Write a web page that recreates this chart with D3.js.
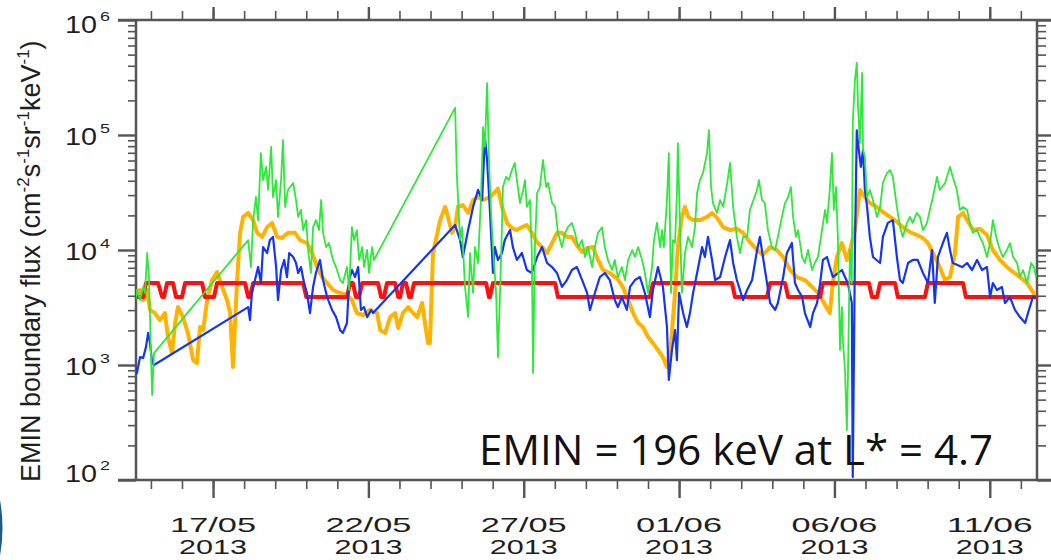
<!DOCTYPE html>
<html>
<head>
<meta charset="utf-8">
<script src="https://cdn.jsdelivr.net/npm/d3@7"></script>
<style>
  body { margin: 0; background: #fff; }
  svg { display: block; }
</style>
</head>
<body>
<svg id="chart" width="1051" height="560"></svg>
<script>
// time is in days since 14/05/2013 00:00 UT, flux in cm-2 s-1 sr-1 keV-1
const DAY = 864e5;
const T0 = Date.UTC(2013, 4, 14);
const tRange = [0.52, 29.52];

const xTickLabels = ['17/05', '22/05', '27/05', '01/06', '06/06', '11/06'];
const yearLabel = '2013';
const yDecades = [2, 3, 4, 5, 6];
const yTitleParts = [['EMIN boundary flux (cm', '-2'], ['s', '-1'], ['sr', '-1'], ['keV', '-1'], [')', '']];
const note = 'EMIN = 196 keV at L* = 4.7';

const fluxOrange = [
  [0.49,4230],[0.65,4490],[0.75,3670],[0.88,4490],[0.97,3010],[1.13,2830],[1.29,2460],[1.45,2830],[1.55,1750],[1.68,1270],
  [1.78,2320],[1.87,3190],[2.03,2610],[2.19,1900],[2.36,1100],[2.48,1040],[2.58,2140],[2.68,2010],[2.81,3670],[2.97,5480],
  [3.13,6440],[3.29,4770],[3.45,3670],[3.55,2830],[3.64,961],[3.77,5160],[3.87,14100],[3.97,19400],[4.13,21000],[4.29,18200],
  [4.42,14100],[4.58,13000],[4.74,15800],[4.90,17200],[5.06,13000],[5.22,12700],[5.41,14100],[5.64,14100],[5.80,12200],[6.02,11500],
  [6.19,9420],[6.35,7110],[6.51,5820],[6.67,5160],[6.86,4490],[7.09,4230],[7.31,4060],[7.47,3670],[7.63,2830],[7.83,2720],
  [8.05,3010],[8.28,2830],[8.38,2010],[8.54,1900],[8.70,2610],[8.86,2830],[8.96,2100],[9.11,2830],[9.28,3190],[9.44,2830],
  [9.57,2610],[9.73,3460],[9.82,2320],[9.92,1550],[9.98,1550],[10.08,9420],[10.31,18200],[10.47,23700],[10.56,19400],[10.69,14100],
  [10.79,15800],[10.88,23700],[11.04,24600],[11.21,21000],[11.37,27200],[11.53,28900],[11.69,27200],[11.91,28900],[12.07,31800],[12.17,34300],
  [12.30,23700],[12.46,17200],[12.62,15500],[12.78,14900],[12.94,15800],[13.10,16500],[13.26,14100],[13.43,11700],[13.59,10600],[13.75,9420],
  [13.91,11500],[14.07,14100],[14.23,14100],[14.39,13000],[14.55,13000],[14.71,11000],[14.88,9610],[15.04,10400],[15.23,10600],[15.39,8190],
  [15.55,6700],[15.77,6310],[16.00,5700],[16.19,4770],[16.36,3670],[16.52,2830],[16.68,2320],[16.84,2140],[17.00,1750],[17.16,1550],
  [17.32,1350],[17.48,1170],[17.61,961],[17.74,1550],[17.87,4230],[17.96,10600],[18.09,19400],[18.19,23700],[18.29,19400],[18.45,18200],
  [18.67,18200],[18.90,19400],[19.06,21000],[19.22,19000],[19.42,15800],[19.64,14900],[19.86,15300],[20.06,14100],[20.28,11700],[20.51,10000],
  [20.70,9050],[20.93,10600],[21.15,10000],[21.35,8690],[21.57,6700],[21.79,5820],[22.05,5480],[22.28,4770],[22.47,4230],[22.70,3330],
  [22.85,2830],[22.95,5160],[23.08,8690],[23.24,11500],[23.40,8190],[23.50,10000],[23.66,14900],[23.82,33300],[23.98,28900],[24.14,25600],
  [24.37,23700],[24.56,21400],[24.79,19400],[25.01,17600],[25.20,15800],[25.43,14300],[25.65,13500],[25.85,12700],[26.01,11500],[26.17,9420],
  [26.33,7710],[26.56,5480],[26.72,5820],[26.88,9420],[26.98,19400],[27.14,21000],[27.30,17600],[27.46,14900],[27.68,15300],[27.91,13500],
  [28.10,10000],[28.33,8190],[28.55,7110],[28.75,6440],[28.97,5820],[29.20,5160],[29.39,4310],[29.49,3740]
];

const fluxRed = [
  [0.52,3900],[0.75,3900],[0.84,5160],[1.23,5160],[1.36,3900],[1.42,3900],[1.52,5160],[1.71,5160],[1.81,3900],[2.00,3900],
  [2.10,5160],[2.65,5160],[2.74,3900],[3.03,3900],[3.13,5160],[4.03,5160],[4.13,3900],[4.19,3900],[4.29,5160],[5.90,5160],
  [6.00,3900],[7.31,3900],[7.41,5160],[7.50,5160],[7.60,3900],[7.70,3900],[7.80,5160],[8.31,5160],[8.41,3900],[8.50,3900],
  [8.60,5160],[8.86,5160],[8.96,3900],[9.02,3900],[9.11,5160],[9.21,5160],[9.31,3900],[9.37,3900],[9.47,5160],[11.79,5160],
  [11.88,3900],[11.91,3900],[12.01,5160],[14.01,5160],[14.10,3900],[17.06,3900],[17.16,5160],[19.70,5160],[19.80,3900],[20.83,3900],
  [20.93,5160],[21.41,5160],[21.51,3900],[22.54,3900],[22.63,5160],[24.11,5160],[24.21,3900],[24.37,3900],[24.47,5160],[24.95,5160],
  [25.04,3900],[25.91,3900],[26.01,5160],[27.14,5160],[27.23,3900],[29.52,3900]
];

const fluxBlue = [
  [0.49,961],[0.55,851],[0.65,1170],[0.75,1150],[0.84,1430],[0.91,1900],[0.97,1550],[1.04,1040],[1.10,1000],[4.13,3190],
  [4.19,2460],[4.25,4230],[4.35,5480],[4.45,7110],[4.54,5160],[4.61,10600],[4.74,9420],[4.83,12200],[4.93,13000],[5.03,7110],
  [5.09,3670],[5.19,6700],[5.29,8190],[5.38,5820],[5.45,9420],[5.58,8690],[5.67,7710],[5.74,6310],[5.83,7110],[5.93,5160],
  [6.02,4230],[6.12,2830],[6.22,4770],[6.31,6310],[6.44,8190],[6.54,5480],[6.67,3900],[6.83,3010],[6.96,2610],[7.09,2010],
  [7.18,1900],[7.31,2320],[7.38,5480],[7.47,6700],[7.57,5820],[7.67,7110],[7.76,3010],[7.86,3190],[7.96,2610],[8.09,3010],
  [8.15,2830],[10.79,16500],[10.95,12200],[11.04,8690],[11.21,14900],[11.37,23700],[11.53,33300],[11.66,27200],[11.75,96000],[11.82,60600],
  [11.91,22300],[12.01,6310],[12.07,10600],[12.17,8190],[12.30,9420],[12.39,12200],[12.56,14900],[12.65,10600],[12.78,8190],[12.94,9420],
  [13.10,6700],[13.26,6310],[13.43,8690],[13.59,10600],[13.75,7710],[13.91,7110],[14.07,6310],[14.23,4770],[14.39,5480],[14.55,6700],
  [14.71,7110],[14.88,5480],[15.04,4230],[15.13,3010],[15.29,4230],[15.45,5820],[15.61,6310],[15.77,5480],[15.93,3670],[16.03,3190],
  [16.16,3900],[16.32,3010],[16.42,4770],[16.58,5480],[16.74,5820],[16.90,4230],[17.06,2610],[17.16,4490],[17.32,7110],[17.48,4770],
  [17.61,2140],[17.67,741],[17.77,1350],[17.87,2010],[17.93,1100],[18.00,4230],[18.13,2830],[18.25,2140],[18.35,2830],[18.45,4230],
  [18.58,6310],[18.74,10600],[18.83,8690],[18.93,13000],[19.06,8190],[19.16,5480],[19.32,5820],[19.48,8690],[19.64,12200],[19.74,7710],
  [19.86,5480],[20.06,3670],[20.19,4490],[20.35,5480],[20.51,10000],[20.60,13000],[20.70,8690],[20.83,5160],[20.93,3460],[21.09,3010],
  [21.18,3460],[21.35,5820],[21.47,9420],[21.63,11500],[21.73,5160],[21.83,4490],[21.96,3900],[22.05,2830],[22.22,2140],[22.31,2830],
  [22.44,3460],[22.54,5160],[22.63,8190],[22.76,8690],[22.85,7110],[22.95,5820],[23.24,6700],[23.34,5820],[23.43,5160],[23.56,3460],
  [23.59,106],[23.66,10000],[23.72,110000],[23.76,85100],[23.85,52800],[23.92,74000],[23.98,33300],[24.05,23700],[24.14,13000],[24.24,8690],
  [24.47,7710],[24.56,13000],[24.72,17200],[24.88,18200],[25.01,8690],[25.11,5480],[25.20,5160],[25.37,7710],[25.52,8190],[25.68,8190],
  [25.85,6310],[26.01,5160],[26.14,10000],[26.23,3460],[26.33,8690],[26.49,11500],[26.62,14100],[26.72,10000],[26.81,7710],[27.11,7110],
  [27.27,7710],[27.43,6700],[27.59,8190],[27.75,6700],[27.91,7110],[28.01,3900],[28.10,5160],[28.23,4490],[28.39,4770],[28.49,3460],
  [28.65,3900],[28.81,3010],[28.97,2610],[29.14,2320],[29.23,2830],[29.39,3900],[29.49,3820]
];

const fluxGreen = [
  [0.49,3460],[0.55,4490],[0.65,3670],[0.75,4770],[0.81,4230],[0.88,9420],[0.94,5480],[1.00,1270],[1.04,548],[1.10,1270],
  [4.13,12200],[4.22,7110],[4.29,18200],[4.38,28900],[4.45,18200],[4.54,69700],[4.61,40600],[4.71,52800],[4.77,33300],[4.87,78700],
  [4.93,28900],[5.03,40600],[5.09,19400],[5.19,40600],[5.25,90500],[5.32,23700],[5.41,33300],[5.48,35300],[5.58,38300],[5.67,27200],
  [5.74,19400],[5.83,22300],[5.90,14900],[6.00,18200],[6.06,10000],[6.15,6310],[6.22,15800],[6.31,18200],[6.41,14900],[6.48,27200],
  [6.54,14100],[6.64,10600],[6.73,11500],[6.86,8190],[6.96,7110],[7.09,5480],[7.18,5160],[7.31,7110],[7.38,4490],[7.47,15800],
  [7.54,12200],[7.63,14900],[7.70,8190],[7.80,10600],[7.86,7110],[7.96,10000],[8.02,6310],[8.12,10600],[8.18,8190],[10.79,172000],
  [10.85,43200],[10.95,12200],[11.01,15800],[11.11,4770],[11.21,2610],[11.27,9420],[11.37,4230],[11.43,10600],[11.53,7710],[11.62,27200],
  [11.69,117000],[11.75,78700],[11.82,283000],[11.88,60600],[11.95,21000],[12.01,10600],[12.11,4230],[12.17,1170],[12.27,8190],[12.33,35300],
  [12.43,43200],[12.52,40600],[12.62,49600],[12.71,57100],[12.78,40600],[12.88,25600],[12.98,33300],[13.04,40600],[13.10,23700],[13.20,27200],
  [13.26,9420],[13.30,851],[13.36,10600],[13.43,31300],[13.52,35300],[13.62,60600],[13.72,35300],[13.78,38300],[13.91,25600],[14.01,23700],
  [14.10,14100],[14.23,10600],[14.33,14100],[14.42,15800],[14.55,17200],[14.65,14100],[14.75,10600],[14.88,12200],[14.97,8690],[15.07,10600],
  [15.20,7110],[15.29,10600],[15.39,14100],[15.52,15800],[15.61,10600],[15.71,8190],[15.84,6700],[15.93,8190],[16.03,5820],[16.16,7110],
  [16.26,5480],[16.36,8190],[16.49,10000],[16.58,8690],[16.68,10600],[16.81,8190],[16.90,6310],[17.00,4230],[17.13,7110],[17.19,12200],
  [17.29,17200],[17.39,10600],[17.45,14900],[17.51,10600],[17.61,27200],[17.67,69700],[17.74,4230],[17.80,12200],[17.87,11500],[17.93,31300],
  [17.96,85100],[18.03,15800],[18.09,4230],[18.19,9420],[18.29,13000],[18.42,10600],[18.51,15800],[18.58,31300],[18.67,40600],[18.77,46700],
  [18.90,69700],[18.96,110000],[19.03,35300],[19.09,25600],[19.22,21000],[19.32,27200],[19.42,23700],[19.55,38300],[19.64,57100],[19.74,23700],
  [19.86,13000],[19.96,9420],[20.06,13000],[20.19,13000],[20.28,22300],[20.51,33300],[20.57,40600],[20.67,27200],[20.76,25600],[20.86,14900],
  [20.99,10600],[21.09,10000],[21.18,13000],[21.31,19400],[21.41,25600],[21.51,28900],[21.60,35300],[21.67,19400],[21.76,13000],[21.83,14900],
  [21.96,8690],[22.05,7710],[22.15,10000],[22.28,6700],[22.37,7710],[22.47,8690],[22.60,14900],[22.70,22300],[22.76,17200],[22.85,33300],
  [22.92,69700],[22.98,22300],[23.05,35300],[23.11,13000],[23.18,1350],[23.24,3190],[23.27,1650],[23.34,905],[23.40,272],[23.43,697],
  [23.50,10000],[23.56,5160],[23.59,127000],[23.66,301000],[23.72,423000],[23.76,175000],[23.82,85100],[23.89,346000],[23.92,74000],[23.98,64400],
  [24.05,28900],[24.14,33300],[24.24,27200],[24.37,19400],[24.47,23700],[24.56,38300],[24.69,46700],[24.79,49600],[24.88,43200],[25.01,23700],
  [25.11,15800],[25.20,13000],[25.33,17200],[25.43,19400],[25.52,17200],[25.65,21000],[25.75,19400],[25.85,14900],[25.98,17200],[26.07,22300],
  [26.17,28900],[26.30,43200],[26.39,33300],[26.56,38300],[26.72,52800],[26.81,43200],[26.94,33300],[27.04,22300],[27.14,23700],[27.27,22300],
  [27.36,17200],[27.46,14100],[27.59,14900],[27.68,13000],[27.78,11500],[27.91,8690],[28.01,11500],[28.10,18200],[28.23,12200],[28.33,10000],
  [28.42,8690],[28.55,10000],[28.65,11500],[28.75,8690],[28.88,7710],[28.97,5820],[29.07,6700],[29.20,5160],[29.33,7710],[29.42,7110],
  [29.49,5820]
];

const AXIS = '#555';
const INK = '#1e1e1e';
const toDate = t => new Date(T0 + t * DAY);

const svg = d3.select('#chart');
const x = d3.scaleUtc().domain(tRange.map(toDate)).range([136, 1037]);
const y = d3.scaleLog().domain([1e2, 1e6]).range([480, 20]);
const [xLeft, xRight] = x.range();
const [yBottom, yTop] = y.range();

// ticks
const majorDates = xTickLabels.map(s => {
  const [d, m] = s.split('/').map(Number);
  return new Date(Date.UTC(2013, m - 1, d));
});
const minorDates = d3.utcDay.range(...x.domain().map(d => d3.utcDay.ceil(d)));
const majorY = yDecades.map(e => 10 ** e);
const minorY = yDecades.slice(0, -1).flatMap(e => d3.range(2, 10).map(k => k * 10 ** e));

function tickGroup(axisFn, scale, values, size, pos, width) {
  svg.append('g')
    .attr('transform', pos)
    .call(axisFn(scale).tickValues(values).tickSize(size).tickFormat(''))
    .call(g => g.select('.domain').remove())
    .call(g => g.selectAll('text').remove())
    .call(g => g.selectAll('line').attr('stroke', AXIS).attr('stroke-width', width));
}
tickGroup(d3.axisBottom, x, minorDates, 9, `translate(0,${yBottom})`, 1.6);
tickGroup(d3.axisBottom, x, majorDates, 18, `translate(0,${yBottom})`, 2.4);
tickGroup(d3.axisTop, x, minorDates, 9, `translate(0,${yTop})`, 1.6);
tickGroup(d3.axisTop, x, majorDates, 13, `translate(0,${yTop})`, 2.4);
tickGroup(d3.axisLeft, y, minorY, 8, `translate(${xLeft},0)`, 1.6);
tickGroup(d3.axisLeft, y, majorY, 18, `translate(${xLeft},0)`, 2.4);
tickGroup(d3.axisRight, y, minorY, 9, `translate(${xRight},0)`, 1.6);
tickGroup(d3.axisRight, y, majorY, 14, `translate(${xRight},0)`, 2.4);

// frame
const frame = svg.append('g').attr('stroke', AXIS).attr('stroke-width', 2.5);
frame.append('line').attr('x1', xLeft - 18).attr('x2', 1051).attr('y1', yTop).attr('y2', yTop);
frame.append('line').attr('x1', xLeft - 18).attr('x2', 1051).attr('y1', yBottom).attr('y2', yBottom);
frame.append('line').attr('x1', xLeft).attr('x2', xLeft).attr('y1', yTop).attr('y2', yBottom);
frame.append('line').attr('x1', xRight).attr('x2', xRight).attr('y1', yTop).attr('y2', yBottom);

// series
svg.append('clipPath').attr('id', 'plot')
  .append('rect').attr('x', xLeft).attr('y', yTop).attr('width', xRight - xLeft).attr('height', yBottom - yTop);

const line = d3.line().x(d => x(toDate(d[0]))).y(d => y(d[1]));
const series = [
  { data: fluxOrange, color: '#ffb300', width: 4 },
  { data: fluxRed, color: '#ff1010', width: 4 },
  { data: fluxBlue, color: '#1535f0', width: 2.2 },
  { data: fluxGreen, color: '#2ee83a', width: 1.8 }
];
const plot = svg.append('g').attr('clip-path', 'url(#plot)');
series.forEach(s => {
  plot.append('path')
    .attr('d', line(s.data))
    .attr('fill', 'none')
    .attr('stroke', s.color)
    .attr('stroke-width', s.width)
    .attr('stroke-linejoin', 'round');
});

// x tick labels, two lines
const labelFont = 'Liberation Sans, Arial, sans-serif';
const xl = svg.append('g').attr('font-family', labelFont).attr('font-size', 21).attr('fill', INK)
  .attr('text-anchor', 'middle');
majorDates.forEach((d, i) => {
  xl.append('text').attr('x', x(d)).attr('y', 532)
    .attr('textLength', 86).attr('lengthAdjust', 'spacingAndGlyphs').text(xTickLabels[i]);
  xl.append('text').attr('x', x(d)).attr('y', 554)
    .attr('textLength', 68).attr('lengthAdjust', 'spacingAndGlyphs').text(yearLabel);
});

// y tick labels 10^n
const yl = svg.append('g').attr('font-family', labelFont).attr('fill', INK);
yDecades.forEach(e => {
  const base = Math.min(Math.max(y(10 ** e) + 10, yTop + 13), yBottom + 2);
  yl.append('text').attr('x', 65).attr('y', base).attr('font-size', 23)
    .attr('textLength', 32).attr('lengthAdjust', 'spacingAndGlyphs').text('10');
  yl.append('text').attr('x', 100).attr('y', base - 12).attr('font-size', 12)
    .attr('textLength', 10).attr('lengthAdjust', 'spacingAndGlyphs').text(e);
});

// y axis title
const yt = svg.append('text')
  .attr('transform', `translate(40,${yBottom + 2}) rotate(-90)`)
  .attr('font-family', labelFont).attr('font-size', 27).attr('fill', INK);
yTitleParts.forEach(([main, sup], i) => {
  yt.append('tspan').attr('dy', i === 0 ? 0 : 11).text(main);
  if (sup) yt.append('tspan').attr('dy', -11).attr('font-size', 17).text(sup);
});

// annotation
svg.append('text').attr('x', 479).attr('y', 465)
  .attr('font-family', 'Open Sans, sans-serif').attr('font-size', 42).attr('fill', '#111')
  .text(note);

// bit of slide decoration at the left edge
svg.append('path').attr('d', 'M0,500 Q5,528 0,556 Z').attr('fill', '#1d5a8a');
</script>
</body>
</html>
